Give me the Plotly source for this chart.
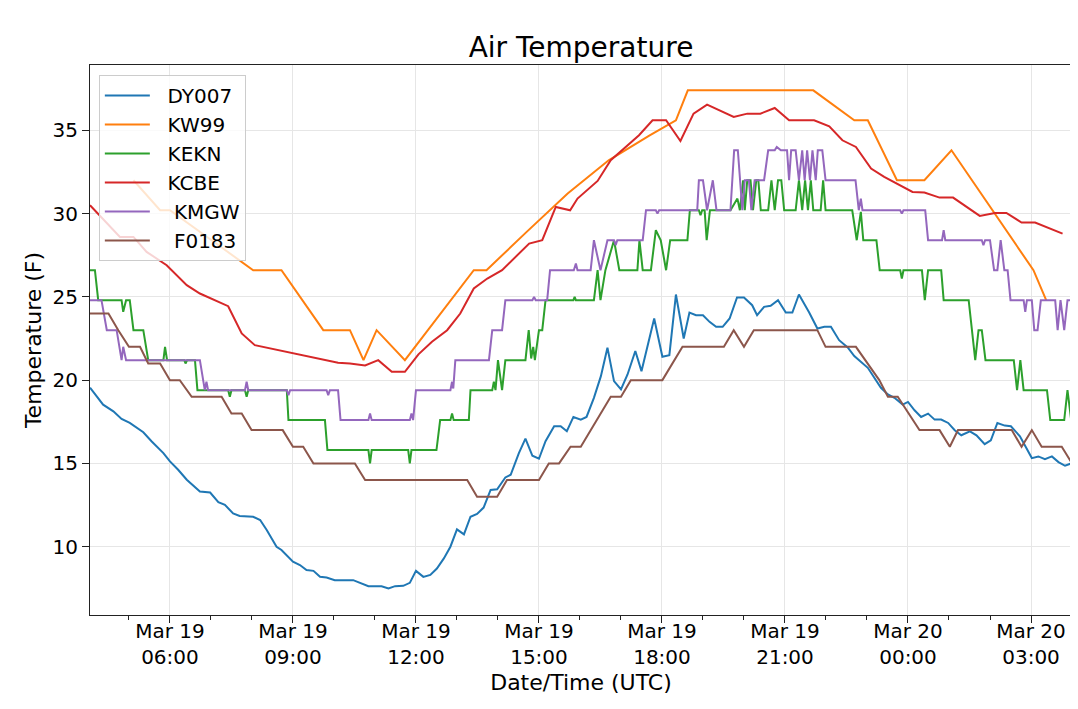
"""
    air temperature at six stations, Mar 19-20
"""

import pandas as pd
import plotly.graph_objects as go


####~~~~  data (hours after Mar 19 00:00 UTC, deg F)

DY007_HOURS = [4.05, 4.37, 4.62, 4.82, 5.02, 5.35, 5.55, 5.84, 6.0, 6.2, 6.41, 6.73, 6.98,
               7.18, 7.34, 7.54, 7.7, 8.03, 8.2, 8.36, 8.6, 8.72, 9.0, 9.17, 9.33, 9.5,
               9.66, 9.82, 10.02, 10.47, 10.84, 11.16, 11.33, 11.49, 11.69, 11.85, 12.0,
               12.18, 12.35, 12.51, 12.68, 12.84, 13.0, 13.17, 13.33, 13.49, 13.65, 13.82,
               13.98, 14.18, 14.31, 14.51, 14.67, 14.84, 15.0, 15.16, 15.37, 15.53, 15.68,
               15.84, 16.02, 16.16, 16.34, 16.51, 16.67, 16.83, 17.0, 17.16, 17.35, 17.5,
               17.81, 18.01, 18.18, 18.34, 18.53, 18.67, 18.83, 19.0, 19.16, 19.32, 19.48,
               19.65, 19.83, 20.0, 20.2, 20.32, 20.49, 20.65, 20.83, 21.02, 21.18, 21.34,
               21.59, 21.79, 21.96, 22.12, 22.32, 22.53, 22.69, 23.02, 23.34, 23.51, 23.67,
               23.87, 24.0, 24.16, 24.32, 24.49, 24.65, 24.81, 24.98, 25.14, 25.3, 25.51,
               25.67, 25.87, 26.02, 26.18, 26.36, 26.51, 26.73, 27.02, 27.18, 27.34, 27.51,
               27.67, 27.83, 28.0]
DY007_TEMP = [19.55, 18.53, 18.13, 17.67, 17.43, 16.87, 16.33, 15.62, 15.12, 14.62, 14.02,
              13.31, 13.25, 12.67, 12.51, 12.0, 11.85, 11.8, 11.6, 11.0, 10.0, 9.8, 9.1, 8.9,
              8.6, 8.55, 8.19, 8.15, 7.99, 7.99, 7.63, 7.63, 7.49, 7.63, 7.65, 7.83, 8.55,
              8.19, 8.31, 8.69, 9.3, 10.0, 11.04, 10.74, 11.8, 11.97, 12.35, 13.41, 13.45,
              14.16, 14.32, 15.62, 16.49, 15.46, 15.28, 16.33, 17.23, 17.23, 16.93, 17.79,
              17.63, 17.79, 18.94, 20.24, 21.95, 19.94, 19.44, 20.34, 21.75, 20.54, 23.7,
              21.4, 21.5, 25.14, 22.5, 24.06, 23.9, 23.9, 23.5, 23.2, 23.2, 23.7, 24.96,
              24.96, 24.5, 23.9, 24.4, 24.46, 24.8, 24.06, 24.06, 25.14, 24.06, 23.1, 23.2,
              23.2, 22.4, 21.96, 21.45, 20.74, 19.54, 19.14, 18.94, 18.53, 18.69, 18.19,
              17.79, 17.99, 17.63, 17.63, 17.43, 16.99, 16.69, 16.93, 16.69, 16.16, 16.39,
              17.43, 17.27, 17.23, 16.63, 15.32, 15.42, 15.26, 15.42, 15.08, 14.86, 15.02]

KW99_HOURS = [5.11, 5.76, 6.0, 8.03, 8.72, 9.74, 10.39, 10.72, 11.04, 11.73, 13.41, 13.72,
              14.7, 15.7, 16.7, 17.7, 18.34, 18.63, 21.69, 22.69, 23.02, 23.73, 24.4,
              25.06, 27.06, 27.37]
KW99_TEMP = [32.0, 30.2, 30.2, 26.6, 26.6, 23.0, 23.0, 21.2, 23.0, 21.2, 26.6, 26.6,
             28.9, 31.2, 33.2, 34.7, 35.6, 37.4, 37.4, 35.6, 35.6, 32.0, 32.0,
             33.8, 26.6, 24.8]

KEKN_HOURS = [4.05, 4.17, 4.25, 4.82, 4.86, 4.93, 5.02, 5.11, 5.35, 5.47, 5.84, 5.88, 5.93,
              6.35, 6.38, 6.42, 6.61, 6.67, 7.42, 7.46, 7.5, 7.83, 7.87, 7.91, 8.85, 8.89,
              9.78, 9.84, 10.84, 10.88, 10.92, 11.81, 11.85, 11.89, 12.5, 12.59, 12.84,
              12.88, 12.92, 13.29, 13.33, 13.86, 13.9, 13.94, 14.0, 14.1, 14.18, 14.67,
              14.75, 14.81, 14.86, 14.9, 15.0, 15.08, 15.16, 15.84, 15.87, 15.9, 16.34,
              16.43, 16.5, 16.62, 16.83, 16.96, 17.4, 17.45, 17.53, 17.73, 17.85, 17.97,
              18.1, 18.2, 18.62, 18.68, 18.9, 18.94, 18.98, 19.04, 19.09, 19.17, 19.67,
              19.84, 19.9, 19.98, 20.02, 20.08, 20.16, 20.22, 20.3, 20.35, 20.41, 20.59,
              20.67, 20.75, 20.83, 20.91, 20.98, 21.26, 21.34, 21.42, 21.49, 21.56, 21.63,
              21.69, 21.87, 21.93, 21.99, 22.64, 22.75, 22.85, 22.91, 23.23, 23.31, 23.81,
              23.85, 23.89, 24.34, 24.41, 24.49, 24.81, 24.87, 25.48, 25.64, 25.72, 25.8,
              25.89, 26.58, 26.66, 26.74, 26.82, 26.9, 27.39, 27.47, 27.81, 27.89, 27.98]
KEKN_TEMP = [26.6, 26.6, 24.8, 24.8, 24.1, 24.8, 24.8, 23.0, 23.0, 21.2, 21.2, 22.0, 21.2,
             21.2, 21.0, 21.2, 21.2, 19.4, 19.4, 19.0, 19.4, 19.4, 19.0, 19.4, 19.4, 17.6,
             17.6, 15.8, 15.8, 15.0, 15.8, 15.8, 15.0, 15.8, 15.8, 17.6, 17.6,
             18.0, 17.6, 17.6, 19.4, 19.4, 19.9, 19.4, 21.2, 19.4, 21.2, 21.2,
             23.0, 21.3, 22.0, 21.2, 23.0, 23.0, 24.8, 24.8, 25.0, 24.8, 24.8,
             26.6, 24.8, 26.6, 28.4, 26.6, 26.6, 28.4, 26.6, 26.6, 29.0, 28.4,
             26.6, 28.4, 28.4, 30.2, 30.2, 29.9, 30.2, 30.2, 28.4, 30.2, 30.2,
             30.9, 30.2, 32.0, 30.2, 32.0, 32.0, 30.2, 32.0, 32.0, 30.2, 30.2,
             32.0, 30.2, 32.0, 32.0, 30.2, 30.2, 32.0, 30.2, 32.0, 30.2, 32.0,
             30.2, 30.2, 32.0, 30.2, 30.2, 28.4, 30.1, 28.4, 28.4, 26.6, 26.6,
             26.1, 26.6, 26.6, 24.8, 26.6, 26.6, 24.8, 24.8, 21.2, 23.0, 23.0,
             21.2, 21.2, 19.4, 21.2, 19.4, 19.4, 19.4, 17.6, 17.6, 19.4, 17.6]

KCBE_HOURS = [4.05, 4.78, 5.11, 5.43, 5.92, 6.41, 6.73, 7.42, 7.75, 8.07, 10.1, 10.39,
              10.76, 11.08, 11.41, 11.73, 12.06, 12.39, 12.76, 13.08, 13.41, 13.74, 14.1,
              14.43, 14.76, 15.08, 15.41, 15.76, 15.94, 16.43, 16.75, 17.44, 17.77, 18.1,
              18.45, 18.77, 19.1, 19.75, 20.08, 20.4, 20.75, 21.1, 21.71, 22.08, 22.4,
              22.73, 23.1, 23.42, 24.11, 24.4, 24.77, 25.1, 25.75, 26.12, 26.4, 26.77,
              27.1, 27.77]
KCBE_TEMP = [30.5, 28.6, 28.6, 27.7, 26.9, 25.7, 25.2, 24.44, 22.8, 22.1, 21.04, 21.0,
             20.88, 21.2, 20.5, 20.5, 21.55, 22.3, 23.0, 24.0, 25.5, 26.1, 26.6,
             27.4, 28.2, 28.4, 30.4, 30.2, 30.9, 31.96, 33.2, 34.7, 35.6, 35.6,
             34.36, 36.0, 36.54, 35.8, 36.0, 36.0, 36.34, 35.6, 35.6, 35.24, 34.4,
             34.0, 32.7, 32.2, 31.3, 31.26, 30.96, 30.96, 29.86, 30.04, 30.04, 29.46,
             29.46, 28.8]

KMGW_HOURS = [4.05, 4.33, 4.46, 4.7, 4.82, 4.86, 4.93, 6.73, 6.85, 6.89, 6.93, 7.83, 7.87,
              7.91, 8.85, 8.89, 8.93, 9.82, 9.86, 9.9, 10.1, 10.16, 10.84, 10.88, 10.92,
              11.85, 11.89, 11.93, 12.0, 12.84, 12.88, 12.91, 12.96, 13.78, 13.86, 14.1,
              14.18, 14.84, 14.88, 14.92, 15.2, 15.27, 15.85, 15.9, 15.94, 16.26, 16.34,
              16.5, 16.67, 16.83, 16.87, 16.91, 17.53, 17.61, 17.85, 17.89, 17.93, 18.86,
              18.9, 19.0, 19.1, 19.24, 19.33, 19.67, 19.76, 19.85, 19.96, 20.02, 20.12,
              20.18, 20.26, 20.49, 20.59, 20.75, 20.8, 20.9, 21.05, 21.1, 21.15, 21.26,
              21.34, 21.42, 21.48, 21.54, 21.61, 21.67, 21.75, 21.8, 21.91, 21.99, 22.72,
              22.8, 22.85, 22.89, 23.81, 23.85, 23.89, 24.42, 24.49, 24.83, 24.87, 24.91,
              25.8, 25.84, 25.88, 26.0, 26.1, 26.18, 26.26, 26.35, 26.43, 26.5, 26.82,
              26.86, 26.9, 27.02, 27.08, 27.16, 27.24, 27.59, 27.65, 27.72, 27.81, 27.89,
              27.98]
KMGW_TEMP = [24.8, 24.8, 23.0, 23.0, 21.2, 22.0, 21.2, 21.2, 19.4, 19.9, 19.4, 19.4, 19.9,
             19.4, 19.4, 19.1, 19.4, 19.4, 19.1, 19.4, 19.4, 17.6, 17.6, 18.0, 17.6,
             17.6, 18.0, 17.6, 19.4, 19.4, 19.9, 19.5, 21.2, 21.2, 23.0, 23.0,
             24.8, 24.8, 25.0, 24.8, 24.8, 26.6, 26.6, 27.0, 26.6, 26.6, 28.4,
             26.6, 28.4, 28.4, 28.1, 28.4, 28.4, 30.2, 30.2, 30.0, 30.2, 30.2,
             32.0, 32.0, 30.2, 32.0, 30.2, 30.2, 33.8, 33.8, 30.2, 32.0, 32.0,
             30.2, 32.0, 32.0, 33.8, 33.8, 34.0, 33.8, 33.8, 32.0, 33.8, 33.8,
             32.0, 33.8, 32.0, 33.8, 32.0, 33.8, 32.0, 33.8, 33.8, 32.0, 32.0,
             30.2, 30.9, 30.2, 30.2, 30.0, 30.2, 30.2, 28.4, 28.4, 29.0, 28.4,
             28.4, 28.1, 28.4, 28.4, 26.6, 26.6, 28.4, 26.6, 26.6, 24.8, 24.8,
             24.1, 24.8, 24.8, 23.0, 23.0, 24.8, 24.8, 23.0, 24.8, 23.0, 24.8,
             24.8]

F0183_HOURS = [4.05, 4.5, 4.74, 5.0, 5.27, 5.47, 5.76, 6.0, 6.24, 6.53, 7.26, 7.5, 7.75,
               7.99, 8.75, 9.0, 9.25, 9.5, 10.51, 10.76, 13.25, 13.49, 13.98, 14.22, 15.0,
               15.24, 15.49, 15.77, 16.02, 16.75, 17.0, 17.24, 18.01, 18.5, 19.51, 19.75,
               20.0, 20.24, 21.79, 21.99, 22.73, 23.02, 23.3, 23.51, 23.75, 24.28, 24.77,
               25.02, 25.22, 26.53, 26.77, 27.02, 27.26, 27.75, 28.0]
F0183_TEMP = [24, 24, 23, 22, 22, 21, 21, 20, 20, 19, 19, 18, 18,
              17, 17, 16, 16, 15, 15, 14, 14, 13, 13, 14, 14,
              15, 15, 16, 16, 19, 19, 20, 20, 22, 22, 23,
              22, 23, 23, 22, 22, 21, 20, 19, 19, 17, 17,
              16, 17, 17, 16, 17, 16, 16, 15]

LEGEND_NAMES = ["DY007", "KW99", "KEKN", "KCBE", " KMGW", " F0183"]
COLORS = ["#1f77b4", "#ff7f0e", "#2ca02c", "#d62728", "#9467bd", "#8c564b"]

X_RANGE_HOURS = [4.05, 28.0]
Y_RANGE = [5.9, 38.92]


####~~~~


def main() :
    start = pd.Timestamp("2019-03-19 00:00")

    def to_time(hours) :
        return start + pd.to_timedelta(hours, unit="h")

    series = [
        (DY007_HOURS, DY007_TEMP),
        (KW99_HOURS, KW99_TEMP),
        (KEKN_HOURS, KEKN_TEMP),
        (KCBE_HOURS, KCBE_TEMP),
        (KMGW_HOURS, KMGW_TEMP),
        (F0183_HOURS, F0183_TEMP),
    ]

    fig = go.Figure()
    for (hrs, temps), name, color in zip(series, LEGEND_NAMES, COLORS) :
        # svg drops leading blanks, so pad with no-break spaces for the gap
        label = "\u00a0\u00a0" + name.replace(" ", "\u00a0")
        fig.add_trace(go.Scatter(
            x=to_time(hrs),
            y=temps,
            mode="lines",
            name=label,
            line=dict(color=color, width=2),
        ))

    axis_common = dict(
        showline=True,
        linecolor="#222222",
        linewidth=1,
        mirror=True,
        ticks="outside",
        ticklen=7,
        tickcolor="#222222",
        showgrid=True,
        gridcolor="#e6e6e6",
        gridwidth=1,
        zeroline=False,
        tickfont=dict(size=20, color="black"),
    )

    # the page body keeps an 8px margin, so the figure is 8px smaller
    # and the margins are 8px tighter on the top/left
    fig.update_layout(
        width=1070,
        height=701,
        margin=dict(l=82, r=6, t=57, b=94),
        paper_bgcolor="white",
        plot_bgcolor="white",
        font=dict(family="DejaVu Sans", size=20, color="black"),
        title=dict(
            text="Air Temperature",
            x=0.5,
            xref="paper",
            xanchor="center",
            y=1 - 39/701,
            yanchor="middle",
            font=dict(size=28),
        ),
        legend=dict(
            x=0.009,
            y=0.982,
            xanchor="left",
            yanchor="top",
            bgcolor="rgba(255,255,255,0.8)",
            bordercolor="#cccccc",
            borderwidth=1,
            itemwidth=45,
            font=dict(size=20),
        ),
        showlegend=True,
    )

    fig.update_xaxes(
        type="date",
        range=[to_time(X_RANGE_HOURS[0]), to_time(X_RANGE_HOURS[1])],
        tick0=start,
        dtick=3*3600*1000,
        tickformat="%b %d<br>%H:%M",
        ticklabelstandoff=-9,
        minor=dict(dtick=3600*1000, ticks="outside", ticklen=4,
                   tickcolor="#222222", showgrid=False),
        title=dict(text="Date/Time (UTC)", font=dict(size=22), standoff=6),
        **axis_common
    )
    fig.update_yaxes(
        range=Y_RANGE,
        tick0=0,
        dtick=5,
        title=dict(text="Temperature (F)", font=dict(size=22), standoff=4),
        **axis_common
    )

    fig.write_html("out.html")


####~~~~


if __name__ == '__main__' :
    main()
